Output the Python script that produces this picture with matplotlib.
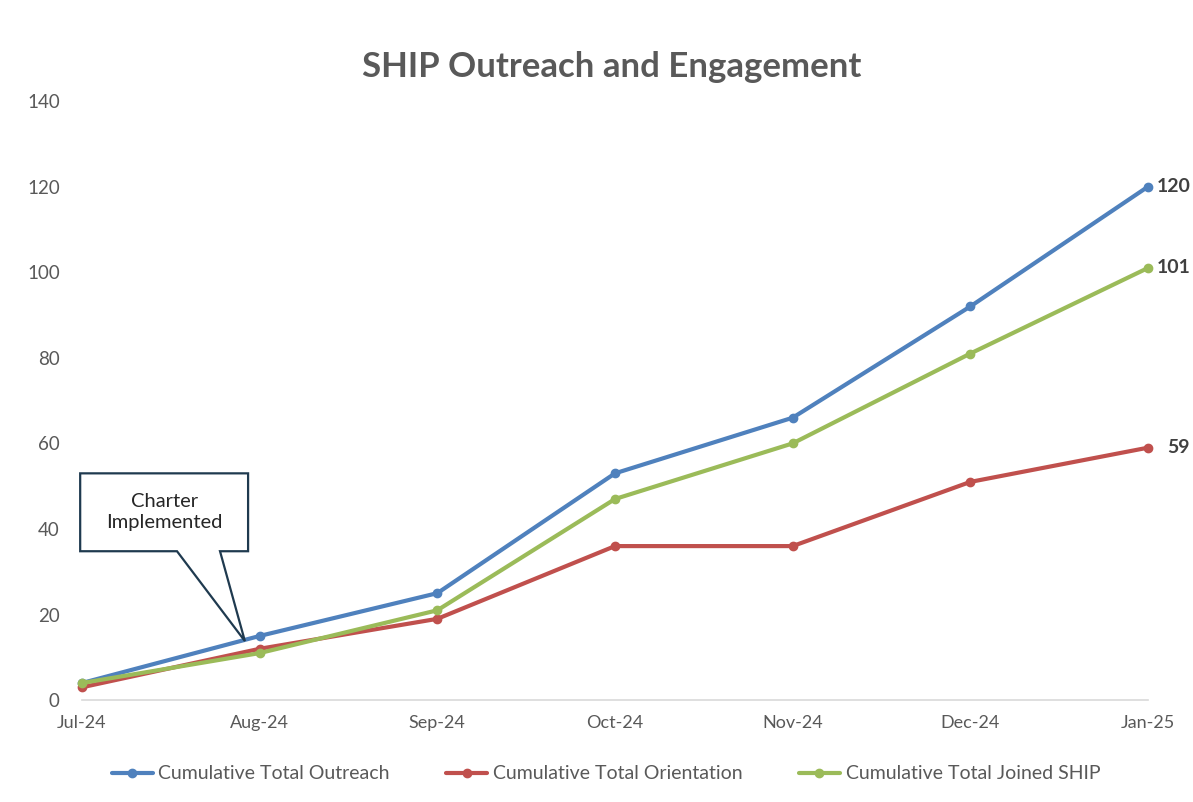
import matplotlib
matplotlib.use('Agg')
import matplotlib.pyplot as plt
from matplotlib.patches import Polygon

meses = ['Jul-24', 'Aug-24', 'Sep-24', 'Oct-24', 'Nov-24', 'Dec-24', 'Jan-25']
outreach = [4, 15, 25, 53, 66, 92, 120]
orientation = [3, 12, 19, 36, 36, 51, 59]
joined = [4, 11, 21, 47, 60, 81, 101]

nomes = ['Cumulative Total Outreach', 'Cumulative Total Orientation', 'Cumulative Total Joined SHIP']
cores = ['#4F81BD', '#C0504D', '#9BBB59']

plt.rcParams['font.family'] = ['Lato', 'DejaVu Sans']
cinza = '#595959'

fig = plt.figure(figsize=(11.93, 8.02), dpi=100)
ax = fig.add_axes([0.0687, 0.127, 0.8936, 0.747])

x = list(range(len(meses)))
series = [outreach, orientation, joined]
for serie, nome, cor in zip(series, nomes, cores):
    ax.plot(x, serie, color=cor, linewidth=3, marker='o', markersize=6, label=nome,
            solid_capstyle='round', clip_on=False, zorder=3)

# rotulos do ultimo ponto
desloc = [6, 14, 6]
for serie, dx in zip(series, desloc):
    ax.annotate(f"{serie[-1]}", (x[-1], serie[-1]), textcoords='offset points',
                xytext=(dx, 0), ha='left', va='center', fontsize=14,
                fontweight='bold', color='#404040', annotation_clip=False)

ax.set_xlim(0, len(meses) - 1)
ax.set_ylim(0, 140)
ax.set_yticks(range(0, 141, 20))
ax.set_xticks(x)
ax.set_xticklabels(meses)
ax.tick_params(axis='y', length=0, pad=16, labelsize=13.5, labelcolor=cinza)
ax.tick_params(axis='x', length=0, pad=11, labelsize=13, labelcolor=cinza)
for lado in ['top', 'right', 'left']:
    ax.spines[lado].set_visible(False)
ax.spines['bottom'].set_color('#D9D9D9')
ax.spines['bottom'].set_linewidth(1.2)

fig.text(0.513, 0.916, 'SHIP Outreach and Engagement', ha='center', va='center',
         fontsize=25, fontweight='bold', color=cinza)

# balao "Charter Implemented" apontando para Aug-24
x0, x1 = -0.01, 0.935
yb, yt = 34.8, 53.0
b1, b2 = 0.535, 0.777
ponta = (0.917, 13.8)
balao = Polygon([(x0, yt), (x1, yt), (x1, yb), (b2, yb), ponta, (b1, yb), (x0, yb)],
                closed=True, facecolor='white', edgecolor='#1F3A4F', linewidth=1.6,
                clip_on=False, zorder=5)
ax.add_patch(balao)
ax.text((x0 + x1) / 2, (yb + yt) / 2, 'Charter\nImplemented', ha='center', va='center',
        fontsize=14.5, color='#262626', linespacing=1.3, zorder=6)

fig.legend(loc='center', bbox_to_anchor=(0.508, 0.035), ncol=3, frameon=False,
           fontsize=14, labelcolor=cinza, handlelength=2.1, columnspacing=2.9,
           handletextpad=0.3)

fig.savefig('out.png', dpi=100)
plt.close()
